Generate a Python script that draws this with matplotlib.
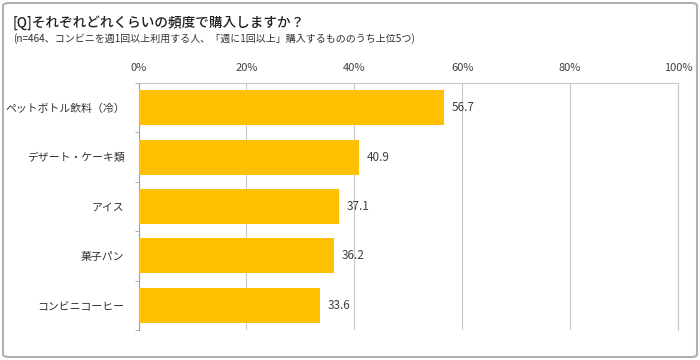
import matplotlib
matplotlib.use("Agg")
import matplotlib.pyplot as plt
from matplotlib.patches import FancyBboxPatch

plt.rcParams['font.family'] = ['Noto Sans CJK JP', 'DejaVu Sans']

categories = ["ペットボトル飲料（冷）", "デザート・ケーキ類", "アイス", "菓子パン", "コンビニコーヒー"]
values = [56.7, 40.9, 37.1, 36.2, 33.6]
xticks = [0, 20, 40, 60, 80, 100]
xticklabels = ["0%", "20%", "40%", "60%", "80%", "100%"]
title = "[Q]それぞれどれくらいの頻度で購入しますか？"
subtitle = "(n=464、コンビニを週1回以上利用する人、「週に1回以上」購入するもののうち上位5つ)"

fig = plt.figure(figsize=(7, 3.6), dpi=100)
W, H = 700, 360
ax = fig.add_axes([138.5 / W, 1 - 330 / H, (678 - 138.5) / W, (330 - 83) / H])

# outer frame
frame = FancyBboxPatch((3 / W, 3 / H), 694 / W, 354 / H,
                       boxstyle="round,pad=0,rounding_size=0.008",
                       transform=fig.transFigure, fill=False,
                       edgecolor="#b0b0b0", linewidth=1.5)
fig.patches.append(frame)

y = list(range(len(categories)))
ax.barh(y, values, height=0.71, color="#FFC000", zorder=3)
for yi, v in zip(y, values):
    ax.text(v + 1.4, yi, f"{v:.1f}", va="center", ha="left", fontsize=8.5,
            color="#404040")

ax.set_xlim(0, 100)
ax.set_ylim(len(categories) - 0.5, -0.5)
ax.set_xticks(xticks)
ax.set_xticklabels(xticklabels, fontsize=8, color="#404040")
ax.xaxis.tick_top()
ax.tick_params(axis="x", length=0, pad=7)
ax.set_yticks(y)
ax.set_yticklabels(categories, fontsize=7.8, color="#303030")
ax.tick_params(axis="y", length=0, pad=10)
# minor ticks at category boundaries
ax.set_yticks([i + 0.5 for i in range(-1, len(categories))], minor=True)
ax.tick_params(axis="y", which="minor", length=3, color="#a0a0a0", direction="out")

ax.grid(axis="x", color="#c8c8c8", linewidth=0.8, zorder=0)
for s in ["top", "right"]:
    ax.spines[s].set_color("#c8c8c8")
    ax.spines[s].set_linewidth(0.8)
ax.spines["bottom"].set_visible(False)
ax.spines["left"].set_color("#a0a0a0")
ax.spines["left"].set_linewidth(0.8)

fig.text(13 / W, 1 - 23 / H, title, fontsize=9.8, fontweight="medium",
         va="center", ha="left", color="#202020")
fig.text(13 / W, 1 - 39 / H, subtitle, fontsize=7.2, va="center", ha="left", color="#303030")

fig.savefig("out.png", dpi=100)
